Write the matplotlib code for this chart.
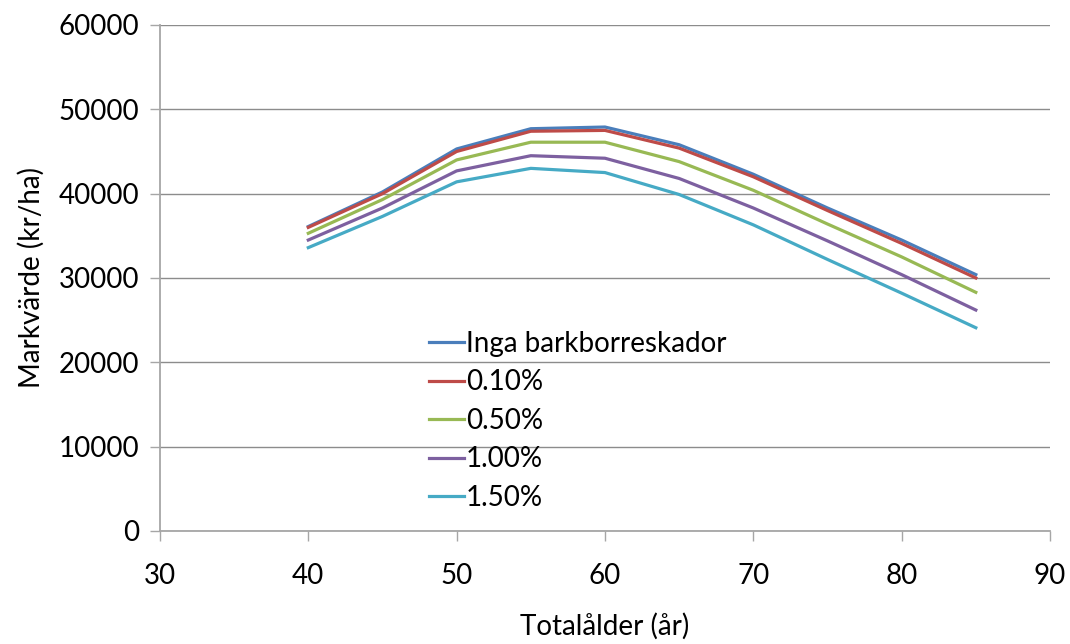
import matplotlib
matplotlib.use('Agg')
import matplotlib.pyplot as plt

# data
alder = [40, 45, 50, 55, 60, 65, 70, 75, 80, 85]
serier = ['Inga barkborreskador', '0.10%', '0.50%', '1.00%', '1.50%']
inga = [36100, 40200, 45300, 47700, 47900, 45800, 42300, 38300, 34500, 30400]
p010 = [36000, 40000, 45000, 47400, 47500, 45400, 42000, 38000, 34100, 30000]
p050 = [35300, 39300, 44000, 46100, 46100, 43800, 40400, 36400, 32500, 28300]
p100 = [34500, 38300, 42700, 44500, 44200, 41800, 38300, 34400, 30400, 26200]
p150 = [33600, 37300, 41400, 43000, 42500, 39900, 36300, 32200, 28200, 24100]
farger = ['#4A7EBB', '#BE4B48', '#98B954', '#7D60A0', '#46AAC5']

plt.rcParams['font.family'] = ['Lato', 'DejaVu Sans']
fs = 20

fig = plt.figure(figsize=(10.7, 6.44), dpi=100)
ax = fig.add_axes([0.1495, 0.1755, 0.8318, 0.7857])

for y, namn, f in zip([inga, p010, p050, p100, p150], serier, farger):
    ax.plot(alder, y, color=f, lw=2.3, label=namn)

ax.set_xlim(30, 90)
ax.set_ylim(0, 60000)
ax.set_xticks(range(30, 91, 10))
ax.set_yticks(range(0, 60001, 10000))
ax.grid(axis='y', color='#8c8c8c', lw=1)
ax.set_axisbelow(True)

for s in ['top', 'right']:
    ax.spines[s].set_visible(False)
for s in ['left', 'bottom']:
    ax.spines[s].set_color('#a6a6a6')
    ax.spines[s].set_linewidth(1.3)

ax.tick_params(axis='both', colors='#a6a6a6', labelcolor='black',
               labelsize=fs, length=7, width=1)
ax.tick_params(axis='y', pad=8)
ax.tick_params(axis='x', pad=16)

ax.set_xlabel('Totalålder (år)', fontsize=fs, labelpad=17)
ax.set_ylabel('Markvärde (kr/ha)', fontsize=fs, labelpad=10)

ax.legend(loc='upper left', bbox_to_anchor=(0.388, 0.508), bbox_transform=fig.transFigure,
          frameon=False, fontsize=fs, handlelength=1.25, handletextpad=0.08,
          labelspacing=0.45, borderpad=0)

fig.savefig('out.png', dpi=100)
